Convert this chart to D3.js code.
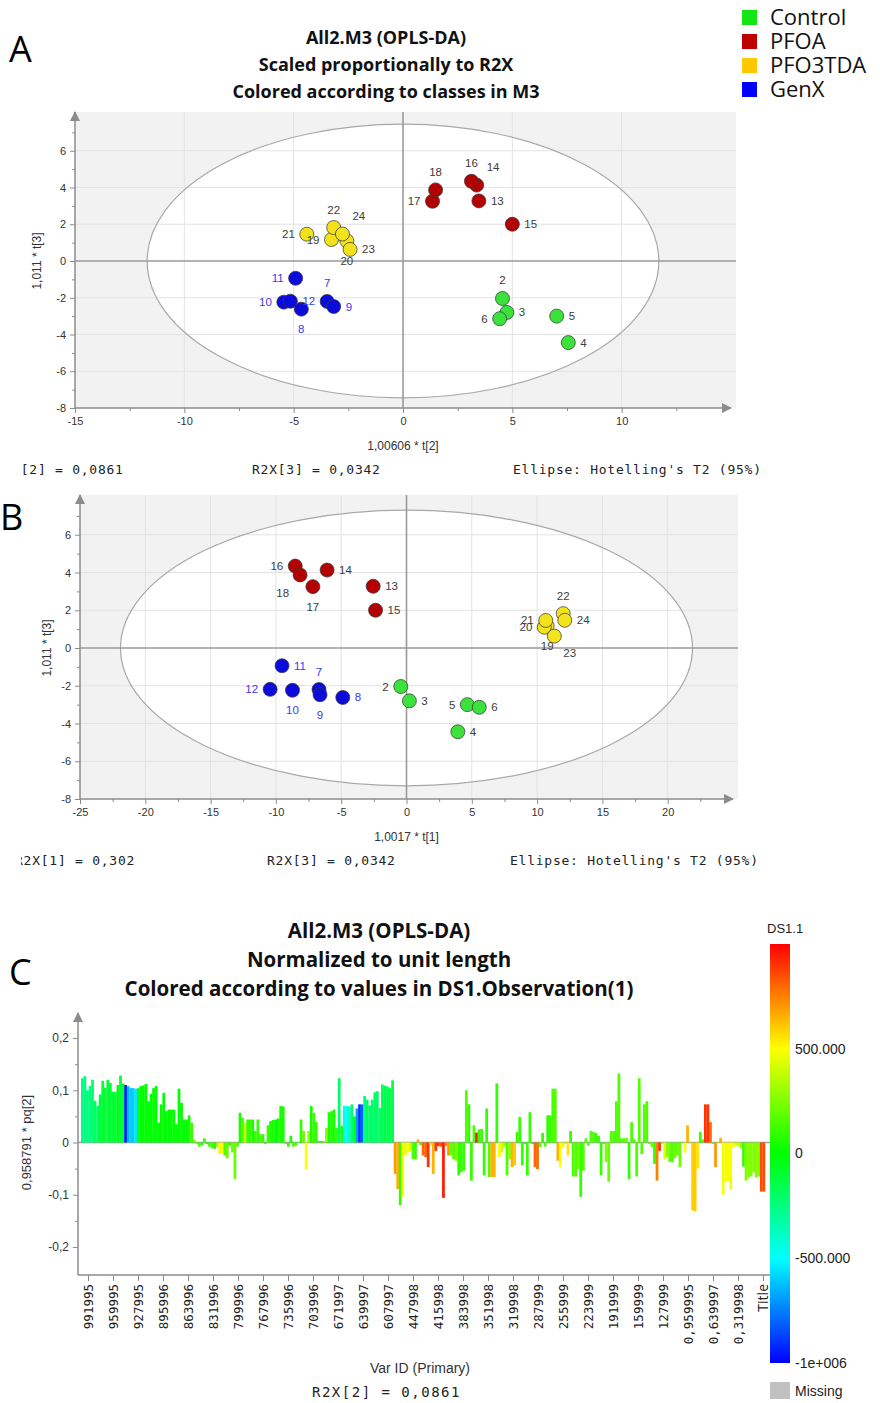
<!DOCTYPE html>
<html>
<head>
<meta charset="utf-8">
<script src="https://cdn.jsdelivr.net/npm/d3@7"></script>
<style>
body { margin: 0; background: #fff; }
svg { display: block; font-family: 'Liberation Sans', Arial, sans-serif; }
</style>
</head>
<body>
<script>
const obsIds = [2,3,4,5,6, 7,8,9,10,11,12, 13,14,15,16,17,18, 19,20,21,22,23,24];
const obsClass = ['Control','Control','Control','Control','Control',
  'GenX','GenX','GenX','GenX','GenX','GenX',
  'PFOA','PFOA','PFOA','PFOA','PFOA','PFOA',
  'PFO3TDA','PFO3TDA','PFO3TDA','PFO3TDA','PFO3TDA','PFO3TDA'];
const t2 = [4.55,4.75,7.56,7.03,4.42, -3.47,-4.65,-3.17,-5.45,-4.91,-5.15, 3.47,3.37,5.0,3.13,1.35,1.49, -3.27,-2.57,-4.4,-3.17,-2.42,-2.77];
const t1 = [-0.44,0.22,3.93,4.66,5.57, -6.7,-4.88,-6.62,-8.73,-9.53,-10.44, -2.55,-6.08,-2.37,-8.52,-7.17,-8.15, 10.77,10.55,10.66,12.0,11.32,12.12];
const t3 = [-2.04,-2.8,-4.44,-3.0,-3.14, -2.2,-2.62,-2.48,-2.24,-0.94,-2.19, 3.27,4.13,2.0,4.34,3.25,3.87, 1.17,1.1,1.46,1.82,0.63,1.47];
const classes = ['Control','PFOA','PFO3TDA','GenX'];
// Hotelling's T2 (95%) ellipse half-axes
const ellipseA = [11.7, 7.45];
const ellipseB = [21.9, 7.3];

const titleA = ['All2.M3 (OPLS-DA)', 'Scaled proportionally to R2X', 'Colored according to classes in M3'];
const titleC = ['All2.M3 (OPLS-DA)', 'Normalized to unit length', 'Colored according to values in DS1.Observation(1)'];
const footA = ['R2X[2] = 0,0861', 'R2X[3] = 0,0342', "Ellipse: Hotelling's T2 (95%)"];
const footB = ['R2X[1] = 0,302', 'R2X[3] = 0,0342', "Ellipse: Hotelling's T2 (95%)"];

// panel C: loadings pq[2] and DS1.1 colour values (thousands)
const pq2 = [
  0.123,0.127,0.100,0.108,0.120,0.080,0.070,0.092,0.118,0.105,
  0.120,0.114,0.097,0.097,0.110,0.128,0.113,0.110,0.108,0.104,
  0.104,0.103,0.104,
  0.108,0.109,0.112,0.079,0.093,0.104,0.108,0.038,0.073,0.095,
  0.060,0.063,0.063,0.063,0.035,0.103,0.076,0.044,0.044,0.052,
  0.038,0.006,-0.003,-0.008,-0.005,0.008,-0.003,-0.008,-0.011,-0.012,
  -0.008,-0.022,-0.022,-0.025,-0.030,-0.006,-0.019,-0.070,-0.008,0.057,
  0.047,0.038,0.044,
  0.044,0.044,0.022,0.044,0.016,0.016,-0.003,0.033,0.041,0.043,
  0.044,0.046,0.070,0.069,-0.003,-0.008,0.013,-0.008,-0.006,0.001,
  0.044,0.022,-0.052,0.022,0.070,0.057,0.039,0.003,0.003,0.003,
  0.028,0.058,0.060,0.063,0.028,0.123,0.032,0.070,0.070,0.069,
  0.073,0.050,0.065,0.073,0.073,0.089,0.082,0.071,0.082,0.096,
  0.098,0.066,0.111,0.109,0.107,0.104,0.119,-0.060,-0.089,-0.120,
  -0.104,-0.025,-0.019,-0.016,-0.032,-0.032,0.006,-0.005,
  -0.025,-0.028,-0.047,-0.004,-0.060,-0.016,-0.007,-0.008,-0.106,-0.007,
  -0.025,-0.025,-0.032,-0.035,-0.063,-0.057,-0.054,0.100,0.073,-0.073,
  0.033,0.019,0.025,0.026,-0.063,0.065,-0.066,-0.066,-0.066,0.113,
  -0.028,-0.019,-0.008,-0.063,-0.032,-0.047,-0.044,0.020,0.049,-0.044,
  -0.003,-0.063,0.058,-0.003,-0.047,-0.051,-0.009,0.018,-0.008,0.052,
  0.052,0.103,0.103,-0.035,-0.047,-0.009,-0.003,-0.025,0.022,-0.065,
  -0.065,-0.051,-0.104,-0.054,0.008,-0.006,0.022,0.020,
  0.018,0.013,-0.063,-0.003,-0.037,-0.075,0.022,0.022,0.079,0.132,
  0.008,0.008,0.009,-0.070,0.039,0.006,-0.065,0.123,-0.022,0.073,
  0.079,-0.003,-0.009,-0.041,-0.073,-0.016,-0.003,-0.032,-0.028,-0.037,
  -0.038,-0.030,-0.025,-0.047,-0.001,-0.019,0.033,-0.001,-0.130,-0.132,
  -0.050,0.020,0.006,0.073,0.073,0.039,-0.003,-0.047,-0.001,0.009,
  -0.100,-0.075,-0.075,-0.090,-0.010,-0.006,-0.008,-0.011,-0.046,-0.073,
  -0.067,-0.065,-0.057,-0.067,-0.065,-0.094,-0.094
];
const ds1 = [
  -250,-250,-250,-250,-200,-200,-200,-100,-100,-100,
  -100,-100,-100,-100,-50,-100,-100,-950,-650,-600,
  -600,-550,-50,
  0,0,0,0,0,0,0,0,0,0,
  0,0,0,0,0,0,0,0,0,50,
  100,200,200,150,50,100,50,100,150,50,
  300,480,500,150,200,100,200,200,150,50,
  150,400,100,
  100,50,100,100,150,100,150,100,50,50,
  0,50,50,50,150,100,50,150,100,100,
  100,200,500,300,50,100,100,100,100,200,
  250,50,50,50,100,-200,50,-450,-500,-400,
  -200,-50,-700,-900,-800,-250,-200,-200,-200,-200,
  -200,-200,-150,-150,-150,-150,-150,700,650,100,
  480,450,500,400,150,100,650,150,
  800,800,900,600,650,900,900,850,950,750,
  700,200,150,250,100,100,100,150,100,100,
  150,950,100,100,100,100,150,650,650,100,
  500,400,300,150,250,650,600,100,100,100,
  100,100,100,100,800,800,150,100,150,100,
  100,150,150,650,500,450,400,550,100,150,
  150,200,100,150,150,150,150,150,
  100,100,100,150,250,200,150,150,150,150,
  150,150,200,100,150,150,150,150,150,150,
  150,200,200,100,750,900,300,450,250,200,
  150,200,200,200,200,500,650,300,600,600,
  550,100,150,900,900,800,200,700,300,650,
  480,480,480,480,480,400,400,300,100,250,
  250,250,250,250,250,850,850
];
const varLabels = ['991995','959995','927995','895996','863996','831996','799996','767996',
  '735996','703996','671997','639997','607997','447998','415998','383998','351998','319998',
  '287999','255999','223999','191999','159999','127999','0,959995','0,639997','0,319998','Title'];
const ds1Ticks = [-1000, -500, 0, 500];
const ds1TickLabels = ['-1e+006', '-500.000', '0', '500.000'];

// styles
const pointFill = {Control: '#3ce23c', PFOA: '#b30000', PFO3TDA: '#f3e31c', GenX: '#0b0bdc'};
const legendFill = {Control: '#14e614', PFOA: '#c00000', PFO3TDA: '#ffc800', GenX: '#0000ff'};
const mono = "'DejaVu Sans Mono', 'Liberation Mono', monospace";
const titleFont = "'Open Sans', sans-serif";
const sides = {l: [-12, 4, 'end'], r: [12, 4, 'start'], t: [0, -14, 'middle'], b: [0, 24, 'middle'],
  tr: [10, -14, 'start'], bl: [-11, 22, 'end'], br: [9, 21, 'start']};
const labelSideA = {2:'t',3:'r',4:'r',5:'r',6:'l',7:'t',8:'b',9:'r',10:'l',11:'l',12:'r',13:'r',14:'tr',
  15:'r',16:'t',17:'l',18:'t',19:'l',20:'b',21:'l',22:'t',23:'r',24:'tr'};
const labelSideB = {2:'l',3:'r',4:'r',5:'l',6:'r',7:'t',8:'r',9:'b',10:'b',11:'r',12:'l',13:'r',14:'r',
  15:'r',16:'l',17:'b',18:'bl',19:'b',20:'l',21:'l',22:'t',23:'br',24:'r'};

const svg = d3.select('body').append('svg').attr('width', 880).attr('height', 1403);
const defs = svg.append('defs');
defs.append('marker').attr('id', 'arrow')
  .attr('viewBox', '0 0 10 10').attr('refX', 9).attr('refY', 5)
  .attr('markerUnits', 'userSpaceOnUse').attr('markerWidth', 14).attr('markerHeight', 10)
  .attr('orient', 'auto')
  .append('path').attr('d', 'M0,0L10,5L0,10Z').attr('fill', '#8c8c8c');
defs.append('clipPath').attr('id', 'leftcut')
  .append('rect').attr('x', 21).attr('y', 0).attr('width', 880).attr('height', 1403);

// panel letters
svg.append('text').attr('x', 9).attr('y', 62).text('A')
  .style('font-family', titleFont).style('font-size', '36px');
svg.append('text').attr('x', 0).attr('y', 530).text('B')
  .style('font-family', titleFont).style('font-size', '36px');
svg.append('text').attr('x', 9).attr('y', 985).text('C')
  .style('font-family', titleFont).style('font-size', '36px');

// titles
svg.selectAll('text.titleA').data(titleA).join('text')
  .attr('x', 386).attr('y', (d, i) => 44 + i * 27)
  .attr('text-anchor', 'middle').text(d => d)
  .style('font-family', titleFont).style('font-weight', 700).style('font-size', '18px').attr('fill', '#111');
svg.selectAll('text.titleC').data(titleC).join('text')
  .attr('x', 379).attr('y', (d, i) => 938 + i * 29)
  .attr('text-anchor', 'middle').text(d => d)
  .style('font-family', titleFont).style('font-weight', 700).style('font-size', '20.5px').attr('fill', '#111');

// legend
const leg = svg.append('g').selectAll('g').data(classes).join('g')
  .attr('transform', (d, i) => `translate(742, ${10 + i * 24})`);
leg.append('rect').attr('width', 15).attr('height', 15).attr('fill', d => legendFill[d]);
leg.append('text').attr('x', 28).attr('y', 15).text(d => d)
  .style('font-family', titleFont).style('font-size', '22px').attr('fill', '#111');

function scatter(o) {
  const g = svg.append('g');
  const x = d3.scaleLinear().domain(o.xDomain).range(o.xRange);
  const y = d3.scaleLinear().domain([-8, 8]).range(o.yRange);
  const top = o.yRange[1] - 2;
  const bottom = o.yRange[0];
  const left = o.xRange[0];
  const right = o.xRange[1] + 5;

  g.append('rect').attr('x', left).attr('y', top).attr('width', right - left).attr('height', bottom - top)
    .attr('fill', '#f2f2f2');
  g.append('ellipse').attr('cx', x(0)).attr('cy', y(0))
    .attr('rx', x(o.ellipse[0]) - x(0)).attr('ry', y(0) - y(o.ellipse[1]))
    .attr('fill', '#fff');
  g.selectAll('line.gx').data(o.xMajor.filter(v => v !== 0 && v !== o.xDomain[0])).join('line')
    .attr('x1', d => x(d)).attr('x2', d => x(d)).attr('y1', top).attr('y2', bottom)
    .attr('stroke', '#e3e3e3');
  g.selectAll('line.gy').data(d3.range(-6, 8, 2).filter(v => v !== 0)).join('line')
    .attr('x1', left).attr('x2', right).attr('y1', d => y(d)).attr('y2', d => y(d))
    .attr('stroke', '#e3e3e3');
  g.append('ellipse').attr('cx', x(0)).attr('cy', y(0))
    .attr('rx', x(o.ellipse[0]) - x(0)).attr('ry', y(0) - y(o.ellipse[1]))
    .attr('fill', 'none').attr('stroke', '#a8a8a8').attr('stroke-width', 1.2);
  // zero lines
  g.append('line').attr('x1', left).attr('x2', right).attr('y1', y(0)).attr('y2', y(0))
    .attr('stroke', '#9a9a9a').attr('stroke-width', 1.6);
  g.append('line').attr('x1', x(0)).attr('x2', x(0)).attr('y1', top).attr('y2', bottom)
    .attr('stroke', '#9a9a9a').attr('stroke-width', 1.6);

  // axes
  const ax = g.append('g').attr('transform', `translate(0,${bottom})`)
    .call(d3.axisBottom(x).tickValues(o.xMajor).tickSize(5).tickPadding(4).tickFormat(d => String(d)));
  const axm = g.append('g').attr('transform', `translate(0,${bottom})`)
    .call(d3.axisBottom(x).tickValues(o.xMinor).tickSize(3).tickFormat(''));
  const ay = g.append('g').attr('transform', `translate(${left},0)`)
    .call(d3.axisLeft(y).tickValues(d3.range(-8, 8, 2)).tickSize(5).tickPadding(4).tickFormat(d => String(d)));
  const aym = g.append('g').attr('transform', `translate(${left},0)`)
    .call(d3.axisLeft(y).tickValues(d3.range(-7, 8, 2)).tickSize(3).tickFormat(''));
  [ax, axm, ay, aym].forEach(a => {
    a.select('.domain').remove();
    a.selectAll('line').attr('stroke', '#8c8c8c');
    a.selectAll('text').attr('fill', '#333').style('font-size', '11px');
  });
  g.append('line').attr('x1', left).attr('x2', o.xRange[1]).attr('y1', bottom).attr('y2', bottom)
    .attr('stroke', '#8c8c8c').attr('stroke-width', 1.5).attr('marker-end', 'url(#arrow)');
  g.append('line').attr('x1', left).attr('x2', left).attr('y1', bottom).attr('y2', top)
    .attr('stroke', '#8c8c8c').attr('stroke-width', 1.5).attr('marker-end', 'url(#arrow)');

  // axis titles
  g.append('text').attr('x', x(0)).attr('y', bottom + 42).attr('text-anchor', 'middle')
    .text(o.xTitle).attr('fill', '#333').style('font-size', '12px');
  g.append('text').attr('transform', `translate(${o.yTitleX},${y(0)}) rotate(-90)`)
    .attr('text-anchor', 'middle').text('1,011 * t[3]').attr('fill', '#333').style('font-size', '12px');

  // points
  const pts = obsIds.map((id, i) => ({id, cls: obsClass[i], x: o.xs[i], y: t3[i]}));
  g.selectAll('circle.pt').data(pts).join('circle')
    .attr('cx', d => x(d.x)).attr('cy', d => y(d.y)).attr('r', 7)
    .attr('fill', d => pointFill[d.cls])
    .attr('stroke', '#3a3a3a').attr('stroke-opacity', 0.75).attr('stroke-width', 1);
  g.selectAll('text.lbl').data(pts).join('text')
    .attr('x', d => x(d.x) + sides[o.sides[d.id]][0])
    .attr('y', d => y(d.y) + sides[o.sides[d.id]][1])
    .attr('text-anchor', d => sides[o.sides[d.id]][2])
    .text(d => d.id)
    .attr('fill', d => d.cls === 'GenX' ? '#3a3af0' : '#3c3c3c')
    .style('font-size', '11.5px');

  // footer
  g.append('g').attr('clip-path', 'url(#leftcut)')
    .selectAll('text').data(o.foot).join('text')
    .attr('x', (d, i) => o.footX[i]).attr('y', o.footY).text(d => d)
    .style('font-family', mono).style('font-size', '13px').style('letter-spacing', '0.75px')
    .attr('fill', '#222');
}

scatter({xDomain: [-15, 15], xRange: [75, 731], yRange: [408, 114], ellipse: ellipseA,
  xMajor: [-15, -10, -5, 0, 5, 10], xMinor: [-12.5, -7.5, -2.5, 2.5, 7.5, 12.5],
  xs: t2, sides: labelSideA, xTitle: '1,00606 * t[2]', yTitleX: 41,
  foot: footA, footX: [-5, 252, 513], footY: 474});

scatter({xDomain: [-25, 25], xRange: [80, 733], yRange: [799, 497], ellipse: ellipseB,
  xMajor: [-25, -20, -15, -10, -5, 0, 5, 10, 15, 20], xMinor: [-22.5, -17.5, -12.5, -7.5, -2.5, 2.5, 7.5, 12.5, 17.5, 22.5],
  xs: t1, sides: labelSideB, xTitle: '1,0017 * t[1]', yTitleX: 51,
  foot: footB, footX: [15, 267, 510], footY: 865});

// ---- panel C ----
const cLeft = 78, cRight = 770, cBottom = 1275, cTop = 1013;
const yC = d3.scaleLinear().domain([-0.2, 0.2]).range([1247, 1038]);
const xC = d3.scaleBand().domain(d3.range(pq2.length)).range([81, 765]);
const colC = d3.scaleLinear().domain([-1000, 1000]).range([240, 0]);
const dsColor = v => d3.hsl(colC(v), 1, 0.5).toString();

const gc = svg.append('g');
gc.append('line').attr('x1', cLeft).attr('x2', cRight).attr('y1', yC(0)).attr('y2', yC(0))
  .attr('stroke', '#a0a0a0').attr('stroke-width', 1.5);
gc.selectAll('rect.bar').data(pq2).join('rect')
  .attr('x', (d, i) => xC(i)).attr('width', xC.bandwidth() + 0.2)
  .attr('y', d => yC(Math.max(0, d))).attr('height', d => Math.abs(yC(d) - yC(0)))
  .attr('fill', (d, i) => dsColor(ds1[i]));

const fmtC = d => String(d).replace('.', ',');
const ayC = gc.append('g').attr('transform', `translate(${cLeft},0)`)
  .call(d3.axisLeft(yC).tickValues([-0.2, -0.1, 0, 0.1, 0.2]).tickSize(5).tickPadding(4).tickFormat(fmtC));
const ayCm = gc.append('g').attr('transform', `translate(${cLeft},0)`)
  .call(d3.axisLeft(yC).tickValues([-0.15, -0.05, 0.05, 0.15]).tickSize(3).tickFormat(''));
[ayC, ayCm].forEach(a => {
  a.select('.domain').remove();
  a.selectAll('line').attr('stroke', '#8c8c8c');
  a.selectAll('text').attr('fill', '#333').style('font-size', '12px');
});
gc.append('line').attr('x1', cLeft).attr('x2', cLeft).attr('y1', cBottom).attr('y2', cTop)
  .attr('stroke', '#8c8c8c').attr('stroke-width', 1.5).attr('marker-end', 'url(#arrow)');

const xLab = d3.scalePoint().domain(varLabels).range([88, 763]);
const axC = gc.append('g').attr('transform', `translate(0,${cBottom})`)
  .call(d3.axisBottom(xLab).tickSize(6).tickSizeOuter(0));
axC.select('.domain').attr('d', `M${cLeft},0H${cRight}`).attr('stroke', '#8c8c8c').attr('stroke-width', 1.5);
axC.selectAll('line').attr('stroke', '#8c8c8c');
axC.selectAll('text')
  .attr('transform', 'rotate(-90)').attr('text-anchor', 'end')
  .attr('x', -9).attr('y', 0).attr('dy', '0.35em')
  .attr('fill', '#222')
  .style('font-family', d => d === 'Title' ? "'Open Sans', sans-serif" : mono)
  .style('font-size', d => d === 'Title' ? '14px' : '12.5px');

gc.append('text').attr('transform', `translate(31,${yC(0)}) rotate(-90)`)
  .attr('text-anchor', 'middle').text('0,958791 * pq[2]').attr('fill', '#333').style('font-size', '13px');
gc.append('text').attr('x', 420).attr('y', 1373).attr('text-anchor', 'middle')
  .text('Var ID (Primary)').attr('fill', '#333').style('font-size', '14px');
gc.append('text').attr('x', 312).attr('y', 1397).text('R2X[2] = 0,0861')
  .style('font-family', mono).style('font-size', '14px').style('letter-spacing', '1.5px').attr('fill', '#222');

// colour bar
const cb = d3.scaleLinear().domain([-1000, 1000]).range([1363, 944]);
const grad = defs.append('linearGradient').attr('id', 'ds1grad')
  .attr('x1', 0).attr('y1', 1).attr('x2', 0).attr('y2', 0);
grad.selectAll('stop').data([-1000, -500, 0, 500, 1000]).join('stop')
  .attr('offset', d => (d + 1000) / 2000).attr('stop-color', d => dsColor(d));
gc.append('rect').attr('x', 770).attr('y', cb(1000)).attr('width', 20).attr('height', cb(-1000) - cb(1000))
  .attr('fill', 'url(#ds1grad)');
const acb = gc.append('g').attr('transform', 'translate(793,0)')
  .call(d3.axisRight(cb).tickValues(ds1Ticks).tickSize(0).tickPadding(2)
    .tickFormat((d, i) => ds1TickLabels[i]));
acb.select('.domain').remove();
acb.selectAll('text').attr('fill', '#222').style('font-size', '14px');
gc.append('text').attr('x', 767).attr('y', 933).text('DS1.1').attr('fill', '#222').style('font-size', '13px');
gc.append('rect').attr('x', 770).attr('y', 1382).attr('width', 20).attr('height', 17).attr('fill', '#c0c0c0');
gc.append('text').attr('x', 795).attr('y', 1396).text('Missing').attr('fill', '#222').style('font-size', '14px');
</script>
</body>
</html>
